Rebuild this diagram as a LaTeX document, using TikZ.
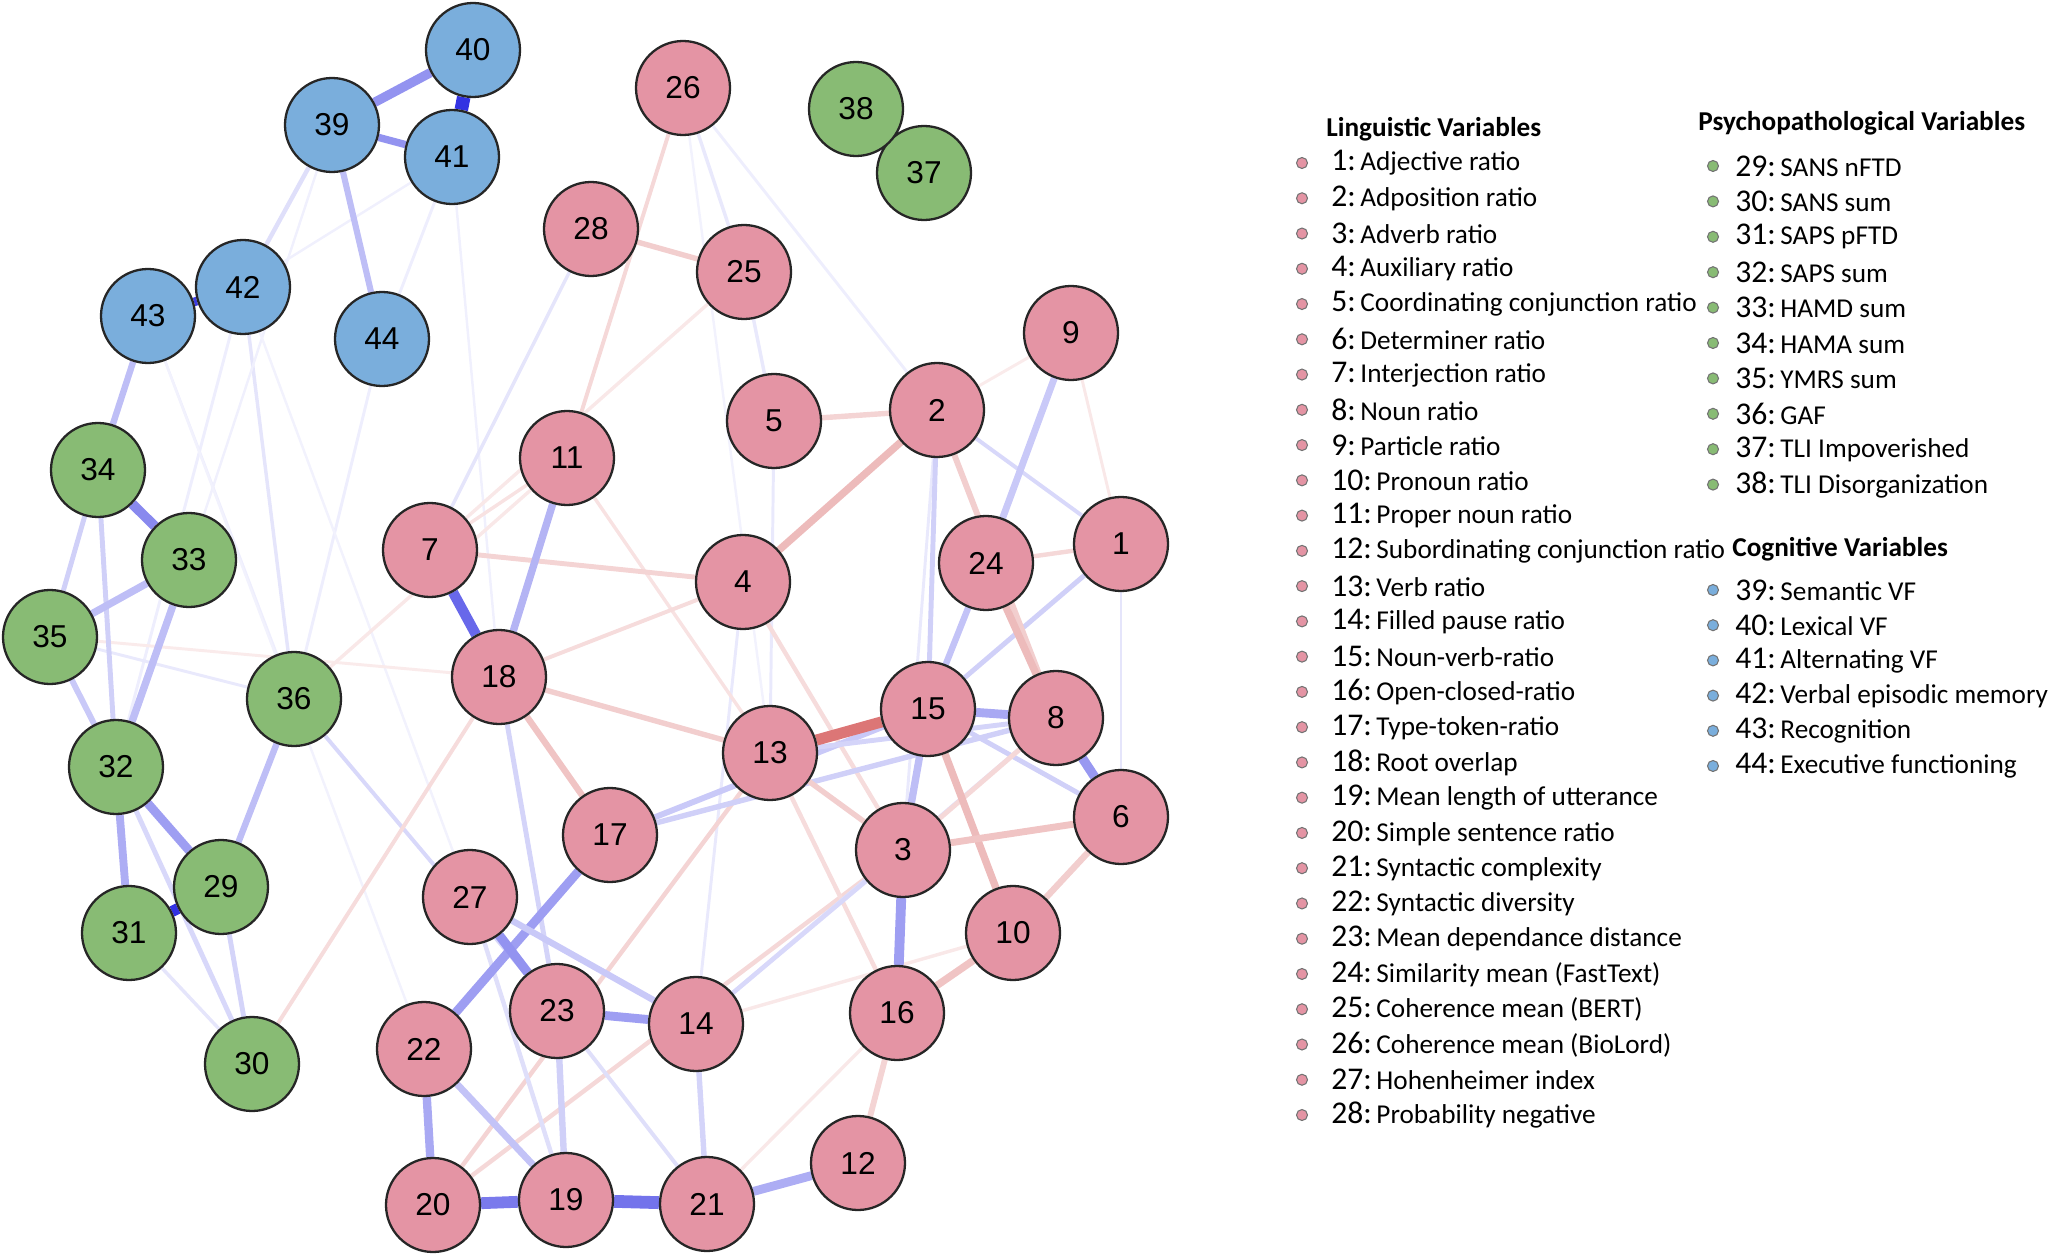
\documentclass[tikz,border=0pt]{standalone}
\usepackage{fontspec}
\setmainfont{Carlito}
\newfontfamily\numfont{Liberation Sans}
\usetikzlibrary{backgrounds}

\definecolor{lingfill}{RGB}{228,148,164}
\definecolor{psyfill}{RGB}{136,187,116}
\definecolor{cogfill}{RGB}{122,174,220}
\definecolor{posblue}{RGB}{40,40,225}
\definecolor{negred}{RGB}{205,60,60}

\begin{document}
\begin{tikzpicture}[x=0.2mm, y=-0.2mm,
  varnode/.style={circle, draw=black!85, line width=1.3pt, minimum size=18.8mm, inner sep=0pt,
    font=\numfont\fontsize{18}{18}\selectfont},
  ling/.style={varnode, fill=lingfill},
  psy/.style={varnode, fill=psyfill},
  cog/.style={varnode, fill=cogfill},
  pc/.style 2 args={draw=posblue!#1, line width=1.4*#2pt},
  nc/.style 2 args={draw=negred!#1, line width=1.4*#2pt},
  keydot/.style={circle, draw=black!55, line width=0.6pt, minimum size=2.2mm, inner sep=0pt},
  keytext/.style={anchor=west, inner sep=0pt, font=\fontsize{15.5}{15.5}\selectfont},
  keyhead/.style={anchor=west, inner sep=0pt, font=\bfseries\fontsize{15.5}{15.5}\selectfont}]

  \useasboundingbox (0,0) rectangle (2050,1256);

  % linguistic variables
  \node[ling] (v1) at (1121,544) {1};
  \node[ling] (v2) at (937,410) {2};
  \node[ling] (v3) at (903,850) {3};
  \node[ling] (v4) at (743,582) {4};
  \node[ling] (v5) at (774,421) {5};
  \node[ling] (v6) at (1121,817) {6};
  \node[ling] (v7) at (430,550) {7};
  \node[ling] (v8) at (1056,718) {8};
  \node[ling] (v9) at (1071,333) {9};
  \node[ling] (v10) at (1013,933) {10};
  \node[ling] (v11) at (567,458) {11};
  \node[ling] (v12) at (858,1163) {12};
  \node[ling] (v13) at (770,753) {13};
  \node[ling] (v14) at (696,1024) {14};
  \node[ling] (v15) at (928,709) {15};
  \node[ling] (v16) at (897,1013) {16};
  \node[ling] (v17) at (610,835) {17};
  \node[ling] (v18) at (499,677) {18};
  \node[ling] (v19) at (566,1200) {19};
  \node[ling] (v20) at (433,1205) {20};
  \node[ling] (v21) at (707,1204) {21};
  \node[ling] (v22) at (424,1049) {22};
  \node[ling] (v23) at (557,1011) {23};
  \node[ling] (v24) at (986,563) {24};
  \node[ling] (v25) at (744,272) {25};
  \node[ling] (v26) at (683,88) {26};
  \node[ling] (v27) at (470,897) {27};
  \node[ling] (v28) at (591,229) {28};

  % psychopathological variables
  \node[psy] (v29) at (221,887) {29};
  \node[psy] (v30) at (252,1064) {30};
  \node[psy] (v31) at (129,933) {31};
  \node[psy] (v32) at (116,767) {32};
  \node[psy] (v33) at (189,560) {33};
  \node[psy] (v34) at (98,470) {34};
  \node[psy] (v35) at (50,637) {35};
  \node[psy] (v36) at (294,699) {36};
  \node[psy] (v37) at (924,173) {37};
  \node[psy] (v38) at (856,109) {38};

  % cognitive variables
  \node[cog] (v39) at (332,125) {39};
  \node[cog] (v40) at (473,50) {40};
  \node[cog] (v41) at (452,157) {41};
  \node[cog] (v42) at (243,287) {42};
  \node[cog] (v43) at (148,316) {43};
  \node[cog] (v44) at (382,339) {44};

  \begin{scope}[on background layer]
    % faint edges
    \path (v41) edge[pc={8}{1.2}] (v44);
    \path (v41) edge[pc={7}{1.0}] (v42);
    \path (v41) edge[pc={7}{1.0}] (v18);
    \path (v42) edge[pc={12}{1.4}] (v36);
    \path (v44) edge[pc={8}{1.2}] (v36);
    \path (v43) edge[pc={8}{1.0}] (v36);
    \path (v42) edge[pc={8}{1.2}] (v32);
    \path (v39) edge[pc={7}{1.0}] (v33);
    \path (v43) edge[pc={6}{1.0}] (v22);
    \path (v42) edge[pc={6}{1.0}] (v27);
    \path (v35) edge[pc={10}{1.2}] (v36);
    \path (v36) edge[pc={18}{1.6}] (v23);
    \path (v28) edge[pc={12}{1.4}] (v7);
    \path (v26) edge[pc={10}{1.4}] (v25);
    \path (v26) edge[pc={8}{1.2}] (v2);
    \path (v26) edge[pc={6}{1.0}] (v13);
    \path (v25) edge[pc={10}{1.4}] (v5);
    \path (v5) edge[pc={10}{1.2}] (v13);
    \path (v4) edge[pc={10}{1.2}] (v14);
    \path (v2) edge[pc={10}{1.2}] (v3);
    \path (v1) edge[pc={12}{1.2}] (v6);
    \path (v35) edge[nc={10}{1.2}] (v18);
    \path (v36) edge[nc={12}{1.4}] (v11);
    \path (v9) edge[nc={12}{1.2}] (v1);
    \path (v9) edge[nc={10}{1.2}] (v2);
    \path (v11) edge[nc={15}{1.4}] (v7);
    \path (v11) edge[nc={15}{1.4}] (v13);
    \path (v25) edge[nc={12}{1.4}] (v7);
    \path (v26) edge[nc={20}{1.6}] (v11);
    \path (v30) edge[nc={18}{1.6}] (v18);
    \path (v18) edge[nc={18}{1.6}] (v4);
    \path (v20) edge[nc={22}{1.8}] (v13);
    \path (v20) edge[nc={20}{1.8}] (v3);
    \path (v21) edge[nc={12}{1.4}] (v16);
    \path (v14) edge[nc={12}{1.4}] (v10);
    \path (v13) edge[nc={18}{1.8}] (v16);
    \path (v4) edge[nc={18}{1.8}] (v3);
    \path (v7) edge[nc={22}{2.0}] (v4);
    % light edges
    \path (v39) edge[pc={15}{1.8}] (v42);
    \path (v29) edge[pc={20}{2.0}] (v30);
    \path (v31) edge[pc={12}{1.4}] (v30);
    \path (v32) edge[pc={18}{2.0}] (v30);
    \path (v34) edge[pc={22}{2.0}] (v35);
    \path (v34) edge[pc={22}{2.0}] (v32);
    \path (v18) edge[pc={20}{2.0}] (v23);
    \path (v27) edge[pc={15}{1.8}] (v19);
    \path (v23) edge[pc={15}{1.6}] (v21);
    \path (v14) edge[pc={20}{2.2}] (v21);
    \path (v14) edge[pc={15}{1.6}] (v8);
    \path (v3) edge[pc={18}{1.8}] (v14);
    \path (v17) edge[pc={25}{2.4}] (v15);
    \path (v17) edge[pc={22}{2.2}] (v8);
    \path (v13) edge[pc={20}{2.0}] (v8);
    \path (v2) edge[pc={22}{2.0}] (v15);
    \path (v1) edge[pc={22}{2.0}] (v15);
    \path (v2) edge[pc={18}{1.6}] (v1);
    \path (v15) edge[pc={22}{2.0}] (v6);
    \path (v2) edge[nc={25}{2.4}] (v8);
    \path (v24) edge[nc={20}{1.8}] (v1);
    \path (v28) edge[nc={25}{2.2}] (v25);
    \path (v5) edge[nc={22}{2.2}] (v2);
    \path (v18) edge[nc={25}{2.2}] (v13);
    \path (v13) edge[nc={25}{2.2}] (v3);
    \path (v3) edge[nc={20}{2.0}] (v8);
    \path (v16) edge[nc={22}{2.4}] (v12);
    % strong edges
    \path (v40) edge[pc={95}{5.5}] (v41);
    \path (v39) edge[pc={50}{3.8}] (v40);
    \path (v39) edge[pc={50}{3.0}] (v41);
    \path (v42) edge[pc={90}{3.5}] (v43);
    \path (v39) edge[pc={30}{2.5}] (v44);
    \path (v43) edge[pc={30}{2.6}] (v34);
    \path (v34) edge[pc={55}{4.0}] (v33);
    \path (v33) edge[pc={30}{3.0}] (v35);
    \path (v33) edge[pc={30}{3.0}] (v32);
    \path (v35) edge[pc={25}{2.4}] (v32);
    \path (v32) edge[pc={45}{3.6}] (v29);
    \path (v32) edge[pc={38}{3.2}] (v31);
    \path (v31) edge[pc={95}{4.5}] (v29);
    \path (v29) edge[pc={30}{2.6}] (v36);
    \path (v38) edge[pc={95}{1.5}] (v37);
    \path (v7) edge[pc={70}{4.2}] (v18);
    \path (v11) edge[pc={35}{3.0}] (v18);
    \path (v17) edge[pc={45}{3.6}] (v22);
    \path (v27) edge[pc={50}{3.8}] (v23);
    \path (v27) edge[pc={25}{2.6}] (v14);
    \path (v23) edge[pc={45}{3.6}] (v14);
    \path (v22) edge[pc={40}{3.4}] (v20);
    \path (v22) edge[pc={28}{2.8}] (v19);
    \path (v23) edge[pc={22}{2.6}] (v19);
    \path (v20) edge[pc={62}{4.8}] (v19);
    \path (v19) edge[pc={65}{5.2}] (v21);
    \path (v21) edge[pc={38}{3.6}] (v12);
    \path (v3) edge[pc={45}{4.0}] (v16);
    \path (v15) edge[pc={30}{3.0}] (v3);
    \path (v15) edge[pc={40}{3.6}] (v8);
    \path (v8) edge[pc={48}{3.8}] (v6);
    \path (v24) edge[pc={28}{2.6}] (v15);
    \path (v9) edge[pc={25}{2.8}] (v24);
    \path (v13) edge[nc={70}{4.5}] (v15);
    \path (v2) edge[nc={35}{3.0}] (v4);
    \path (v24) edge[nc={35}{3.0}] (v8);
    \path (v15) edge[nc={35}{3.0}] (v10);
    \path (v3) edge[nc={30}{2.8}] (v6);
    \path (v16) edge[nc={30}{3.0}] (v10);
    \path (v10) edge[nc={25}{2.6}] (v6);
    \path (v18) edge[nc={30}{2.6}] (v17);
  \end{scope}

  % legend
  \node[keyhead] (hling) at (1326,129) {Linguistic Variables};
  \node[keyhead] (hpsy) at (1698,123) {Psychopathological Variables};
  \node[keyhead] (hcog) at (1732,549) {Cognitive Variables};

  \foreach \n/\txt in {1/Adjective ratio, 2/Adposition ratio, 3/Adverb ratio, 4/Auxiliary ratio,
      5/Coordinating conjunction ratio, 6/Determiner ratio, 7/Interjection ratio, 8/Noun ratio,
      9/Particle ratio, 10/Pronoun ratio, 11/Proper noun ratio, 12/Subordinating conjunction ratio,
      13/Verb ratio, 14/Filled pause ratio, 15/Noun-verb-ratio, 16/Open-closed-ratio,
      17/Type-token-ratio, 18/Root overlap, 19/Mean length of utterance, 20/Simple sentence ratio,
      21/Syntactic complexity, 22/Syntactic diversity, 23/Mean dependance distance,
      24/Similarity mean (FastText), 25/Coherence mean (BERT), 26/Coherence mean (BioLord),
      27/Hohenheimer index, 28/Probability negative} {
    \node[keydot, fill=lingfill] (d\n) at (1302,{163+35.26*(\n-1)}) {};
    \node[keytext] (l\n) at (1331,{163+35.26*(\n-1)}) {{\fontsize{18}{18}\selectfont\n:}\,\txt};
  }

  \foreach \n/\txt in {29/SANS nFTD, 30/SANS sum, 31/SAPS pFTD, 32/SAPS sum, 33/HAMD sum,
      34/HAMA sum, 35/YMRS sum, 36/GAF, 37/TLI Impoverished, 38/TLI Disorganization} {
    \node[keydot, fill=psyfill] (d\n) at (1713,{166+35.4*(\n-29)}) {};
    \node[keytext] (l\n) at (1735,{166+35.4*(\n-29)}) {{\fontsize{18}{18}\selectfont\n:}\,\txt};
  }

  \foreach \n/\txt in {39/Semantic VF, 40/Lexical VF, 41/Alternating VF, 42/Verbal episodic memory,
      43/Recognition, 44/Executive functioning} {
    \node[keydot, fill=cogfill] (d\n) at (1713,{590+35.2*(\n-39)}) {};
    \node[keytext] (l\n) at (1735,{590+35.2*(\n-39)}) {{\fontsize{18}{18}\selectfont\n:}\,\txt};
  }

\end{tikzpicture}
\end{document}
